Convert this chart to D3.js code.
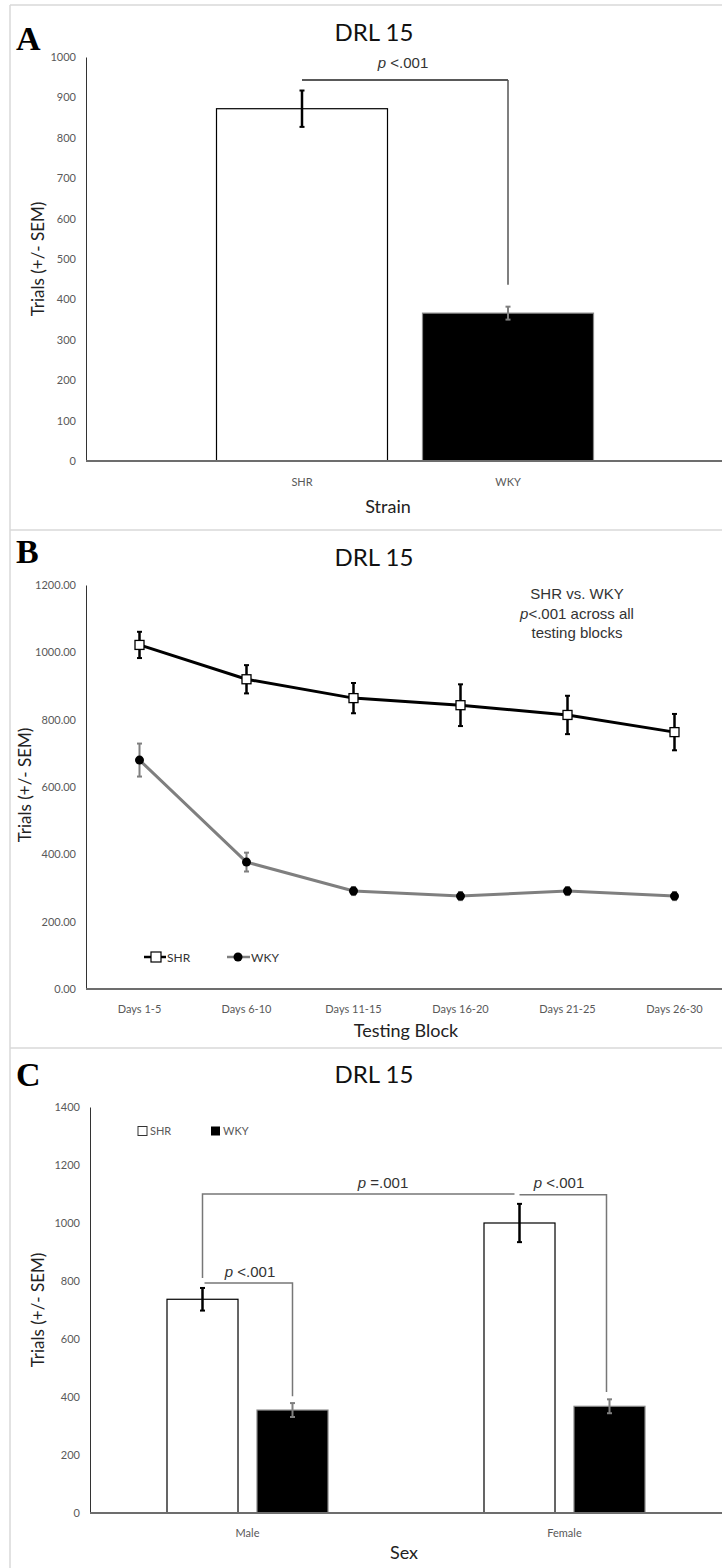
<!DOCTYPE html>
<html>
<head>
<meta charset="utf-8">
<script src="https://cdn.jsdelivr.net/npm/d3@7"></script>
<style>
  body { margin: 0; background: #fff; }
  svg text { font-family: Lato, "Open Sans", sans-serif; }
</style>
</head>
<body>
<svg id="chart" width="722" height="1568"></svg>
<script>
// Panel A: trials by strain
const strainCats = ["SHR", "WKY"];
const strainMeans = [872, 366];
const strainSem = [45, 16];
const strainTicks = [0, 100, 200, 300, 400, 500, 600, 700, 800, 900, 1000];

// Panel B: trials by testing block
const blockCats = ["Days 1-5", "Days 6-10", "Days 11-15", "Days 16-20", "Days 21-25", "Days 26-30"];
const shrBlockMeans = [1022, 920, 864, 843, 814, 763];
const shrBlockSem = [39, 42, 45, 62, 57, 54];
const wkyBlockMeans = [680, 377, 291, 276, 291, 276];
const wkyBlockSem = [49, 28, 12, 12, 12, 12];
const blockTicks = [0, 200, 400, 600, 800, 1000, 1200];

// Panel C: trials by sex and strain
const sexCats = ["Male", "Female"];
const shrSexMeans = [737, 1000];
const shrSexSem = [39, 66];
const wkySexMeans = [355, 368];
const wkySexSem = [24, 24];
const sexTicks = [0, 200, 400, 600, 800, 1000, 1200, 1400];

const svg = d3.select("#chart");
const gray = "#7f7f7f";
const tickColor = "#595959";

// panel frames
const frame = svg.append("g").attr("stroke", "#d9d9d9").attr("stroke-width", 1.5);
frame.append("line").attr("x1", 10).attr("x2", 722).attr("y1", 5).attr("y2", 5);
frame.append("line").attr("x1", 10).attr("x2", 10).attr("y1", 5).attr("y2", 1568);
frame.append("line").attr("x1", 10).attr("x2", 722).attr("y1", 530).attr("y2", 530);
frame.append("line").attr("x1", 10).attr("x2", 722).attr("y1", 1048).attr("y2", 1048);

// shared helpers
function panelText(letter, ly, title, ty) {
  svg.append("text").attr("x", 16).attr("y", ly)
    .style("font-family", "'Liberation Serif', 'Times New Roman', serif")
    .style("font-weight", "bold").style("font-size", "34px").text(letter);
  svg.append("text").attr("x", 374).attr("y", ty).attr("text-anchor", "middle")
    .style("font-size", "24px").attr("fill", "#111").text(title);
}

function yTitle(x, cy) {
  svg.append("text")
    .attr("transform", "translate(" + x + "," + cy + ") rotate(-90)")
    .attr("text-anchor", "middle").style("font-size", "17px").attr("fill", "#222")
    .text("Trials (+/- SEM)");
}

function yAxis(scale, ticks, x, fmt) {
  const g = svg.append("g").attr("transform", "translate(" + x + ",0)")
    .call(d3.axisLeft(scale).tickValues(ticks).tickSize(0).tickPadding(10).tickFormat(fmt));
  g.select(".domain").attr("stroke", "#333").attr("stroke-width", 1);
  g.selectAll("text").attr("fill", tickColor).style("font-size", "11px")
    .style("font-family", "Lato, sans-serif");
}

function xLabels(scale, y) {
  const g = svg.append("g").attr("transform", "translate(0," + y + ")")
    .call(d3.axisBottom(scale).tickSize(0).tickPadding(12));
  g.select(".domain").remove();
  g.selectAll("text").attr("fill", tickColor).style("font-size", "11px")
    .style("font-family", "Lato, sans-serif");
}

function baseline(x1, x2, y) {
  svg.append("line").attr("x1", x1).attr("x2", x2).attr("y1", y).attr("y2", y)
    .attr("stroke", "#6d6d6d").attr("stroke-width", 2);
}

function errBar(g, x, yScale, m, s, color, w) {
  const y1 = yScale(m + s), y2 = yScale(m - s);
  g.append("line").attr("x1", x).attr("x2", x).attr("y1", y1).attr("y2", y2)
    .attr("stroke", color).attr("stroke-width", w);
  [y1, y2].forEach(function (yy) {
    g.append("line").attr("x1", x - 2.5).attr("x2", x + 2.5).attr("y1", yy).attr("y2", yy)
      .attr("stroke", color).attr("stroke-width", 2);
  });
}

function pText(x, y, rest, size) {
  const t = svg.append("text").attr("x", x).attr("y", y).attr("text-anchor", "middle")
    .style("font-family", "'Liberation Sans', Arial, sans-serif")
    .style("font-size", size + "px").attr("fill", "#333");
  t.append("tspan").style("font-style", "italic").text("p");
  t.append("tspan").text(rest);
}

// ---------- Panel A ----------
panelText("A", 50, "DRL 15", 41);
const yA = d3.scaleLinear().domain([0, 1000]).range([461, 57]);
const xA = d3.scaleBand().domain(strainCats).range([199, 611]);
yAxis(yA, strainTicks, 86, d3.format("d"));
yTitle(44, 259);

const gA = svg.append("g");
gA.selectAll("rect").data(strainCats).enter().append("rect")
  .attr("x", function (d) { return xA(d) + (xA.bandwidth() - 171) / 2; })
  .attr("width", 171)
  .attr("y", function (d, i) { return yA(strainMeans[i]); })
  .attr("height", function (d, i) { return yA(0) - yA(strainMeans[i]); })
  .attr("fill", function (d, i) { return i === 0 ? "#fff" : "#000"; })
  .attr("stroke", function (d, i) { return i === 0 ? "#000" : "#888"; })
  .attr("stroke-width", 1.2);
baseline(86, 722, 461);
xLabels(xA, 466);
strainCats.forEach(function (d, i) {
  const cx = xA(d) + xA.bandwidth() / 2;
  errBar(gA, cx, yA, strainMeans[i], strainSem[i], i === 0 ? "#000" : gray, i === 0 ? 2.5 : 2);
});
svg.append("text").attr("x", 388).attr("y", 513).attr("text-anchor", "middle")
  .style("font-size", "18px").attr("fill", "#222").text("Strain");

// bracket A
const axA = xA("SHR") + xA.bandwidth() / 2, bxA = xA("WKY") + xA.bandwidth() / 2;
svg.append("line").attr("x1", axA).attr("x2", bxA).attr("y1", yA(943)).attr("y2", yA(943))
  .attr("stroke", "#222").attr("stroke-width", 1.5);
svg.append("line").attr("x1", bxA).attr("x2", bxA).attr("y1", yA(943)).attr("y2", yA(436))
  .attr("stroke", "#555").attr("stroke-width", 1.5);
pText(403, 68, " <.001", 15);

// ---------- Panel B ----------
panelText("B", 563, "DRL 15", 566);
const yB = d3.scaleLinear().domain([0, 1200]).range([989, 585]);
const xB = d3.scaleBand().domain(blockCats).range([86, 728]);
const cxB = function (d) { return xB(d) + xB.bandwidth() / 2; };
yAxis(yB, blockTicks, 86, d3.format(".2f"));
yTitle(31, 785);
baseline(86, 722, 989);
xLabels(xB, 993);
svg.append("text").attr("x", 406).attr("y", 1037).attr("text-anchor", "middle")
  .style("font-size", "18px").attr("fill", "#222").text("Testing Block");

const lineB = d3.line().x(function (d, i) { return cxB(blockCats[i]); }).y(function (d) { return yB(d); });
const gB = svg.append("g");
gB.append("path").datum(wkyBlockMeans).attr("d", lineB).attr("fill", "none")
  .attr("stroke", gray).attr("stroke-width", 3);
gB.append("path").datum(shrBlockMeans).attr("d", lineB).attr("fill", "none")
  .attr("stroke", "#000").attr("stroke-width", 3);
blockCats.forEach(function (d, i) {
  errBar(gB, cxB(d), yB, wkyBlockMeans[i], wkyBlockSem[i], gray, 2);
  errBar(gB, cxB(d), yB, shrBlockMeans[i], shrBlockSem[i], "#000", 2.5);
});
gB.selectAll("circle.wky").data(wkyBlockMeans).enter().append("circle")
  .attr("cx", function (d, i) { return cxB(blockCats[i]); })
  .attr("cy", function (d) { return yB(d); })
  .attr("r", 4.5).attr("fill", "#000");
gB.selectAll("rect.shr").data(shrBlockMeans).enter().append("rect")
  .attr("x", function (d, i) { return cxB(blockCats[i]) - 4.5; })
  .attr("y", function (d) { return yB(d) - 4.5; })
  .attr("width", 9).attr("height", 9)
  .attr("fill", "#fff").attr("stroke", "#000").attr("stroke-width", 1.3);

// legend B
const legB = svg.append("g").attr("transform", "translate(0,957)");
legB.append("line").attr("x1", 144).attr("x2", 166).attr("stroke", "#000").attr("stroke-width", 2.5);
legB.append("rect").attr("x", 151).attr("y", -5).attr("width", 10).attr("height", 10)
  .attr("fill", "#fff").attr("stroke", "#000").attr("stroke-width", 1.2);
legB.append("text").attr("x", 167).attr("y", 4.5).style("font-size", "12px").attr("fill", "#333").text("SHR");
legB.append("line").attr("x1", 227).attr("x2", 250).attr("stroke", gray).attr("stroke-width", 2.5);
legB.append("circle").attr("cx", 238).attr("cy", 0).attr("r", 4.5).attr("fill", "#000");
legB.append("text").attr("x", 251).attr("y", 4.5).style("font-size", "12px").attr("fill", "#333").text("WKY");

// annotation B
const noteB = svg.append("text").attr("text-anchor", "middle")
  .style("font-family", "'Liberation Sans', Arial, sans-serif")
  .style("font-size", "15px").attr("fill", "#333");
noteB.append("tspan").attr("x", 577).attr("y", 599).text("SHR vs. WKY");
const l2 = noteB.append("tspan").attr("x", 577).attr("y", 619);
l2.append("tspan").style("font-style", "italic").text("p");
l2.append("tspan").text("<.001 across all");
noteB.append("tspan").attr("x", 577).attr("y", 638).text("testing blocks");

// ---------- Panel C ----------
panelText("C", 1086, "DRL 15", 1083);
const yC = d3.scaleLinear().domain([0, 1400]).range([1513, 1107]);
const xC = d3.scaleBand().domain(sexCats).range([89, 723]);
const xC1 = d3.scaleBand().domain(["SHR", "WKY"]).range([-80.5, 80.5]).paddingInner(0.211);
yAxis(yC, sexTicks, 90, d3.format("d"));
yTitle(44, 1310);

const sexSeries = [
  { key: "SHR", means: shrSexMeans, sem: shrSexSem, fill: "#fff", stroke: "#000", err: "#000", w: 2.5 },
  { key: "WKY", means: wkySexMeans, sem: wkySexSem, fill: "#000", stroke: "#888", err: gray, w: 2 }
];
const gC = svg.append("g");
sexSeries.forEach(function (s) {
  gC.selectAll("rect." + s.key).data(sexCats).enter().append("rect")
    .attr("x", function (d) { return xC(d) + xC.bandwidth() / 2 + xC1(s.key); })
    .attr("width", xC1.bandwidth())
    .attr("y", function (d, i) { return yC(s.means[i]); })
    .attr("height", function (d, i) { return yC(0) - yC(s.means[i]); })
    .attr("fill", s.fill).attr("stroke", s.stroke).attr("stroke-width", 1.2);
});
baseline(90, 722, 1513);
sexSeries.forEach(function (s) {
  sexCats.forEach(function (d, i) {
    const cx = xC(d) + xC.bandwidth() / 2 + xC1(s.key) + xC1.bandwidth() / 2;
    errBar(gC, cx, yC, s.means[i], s.sem[i], s.err, s.w);
  });
});
xLabels(xC, 1517);
svg.append("text").attr("x", 404).attr("y", 1559).attr("text-anchor", "middle")
  .style("font-size", "18px").attr("fill", "#222").text("Sex");

// legend C
const legC = svg.append("g").attr("transform", "translate(0,1131)");
legC.append("rect").attr("x", 138).attr("y", -4.5).attr("width", 9).attr("height", 9)
  .attr("fill", "#fff").attr("stroke", "#333").attr("stroke-width", 1);
legC.append("text").attr("x", 150).attr("y", 4).style("font-size", "11px").attr("fill", tickColor).text("SHR");
legC.append("rect").attr("x", 211).attr("y", -4.5).attr("width", 9).attr("height", 9).attr("fill", "#000");
legC.append("text").attr("x", 223).attr("y", 4).style("font-size", "11px").attr("fill", tickColor).text("WKY");

// brackets C
function barCenter(sex, key) { return xC(sex) + xC.bandwidth() / 2 + xC1(key) + xC1.bandwidth() / 2; }
const br = svg.append("g").attr("fill", "none").attr("stroke", "#777").attr("stroke-width", 1.5);
const p1 = d3.path();
p1.moveTo(barCenter("Male", "SHR"), yC(810));
p1.lineTo(barCenter("Male", "SHR"), yC(1100));
p1.lineTo(barCenter("Female", "SHR") - 5, yC(1100));
br.append("path").attr("d", p1.toString());
const p2 = d3.path();
p2.moveTo(barCenter("Female", "SHR"), yC(1097));
p2.lineTo(barCenter("Female", "WKY") - 3, yC(1097));
p2.lineTo(barCenter("Female", "WKY") - 3, yC(417));
br.append("path").attr("d", p2.toString());
const p3 = d3.path();
p3.moveTo(barCenter("Male", "SHR") + 2, yC(793));
p3.lineTo(barCenter("Male", "WKY"), yC(793));
p3.lineTo(barCenter("Male", "WKY"), yC(403));
br.append("path").attr("d", p3.toString());

pText(383, 1188, " =.001", 15);
pText(559, 1188, " <.001", 15);
pText(250, 1277, " <.001", 15);
</script>
</body>
</html>
